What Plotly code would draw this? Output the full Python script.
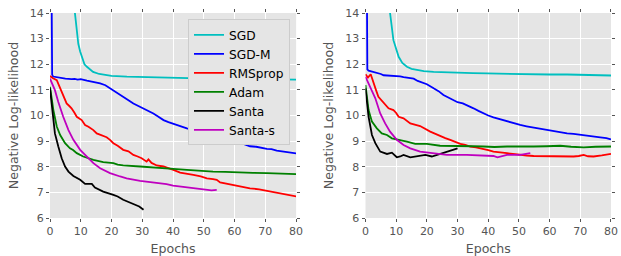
import plotly.graph_objects as go

# ---------------- data (left panel) ----------------
sgd_l_x = [1, 2, 3, 4, 5, 6, 7.0, 7.6, 8.1, 8.6, 9.2, 9.8, 10.5, 11.2, 12, 13, 14, 16, 18, 20, 25, 30, 35, 40, 45, 50, 55, 60, 65, 70, 75, 80]
sgd_l_y = [60, 40, 30, 24, 20, 18, 16.5, 15.2, 14.0, 13.3, 12.8, 12.5, 12.2, 12.0, 11.9, 11.8, 11.7, 11.62, 11.58, 11.55, 11.52, 11.5, 11.48, 11.47, 11.46, 11.45, 11.44, 11.43, 11.42, 11.42, 11.41, 11.4]

sgdm_l_x = [0.45, 0.7, 1, 2, 3, 5, 7, 8, 9, 10, 12, 14, 16.3, 18, 20.6, 22, 23.8, 25.5, 27.1, 29, 30.4, 32, 33.6, 35, 36.9, 38.5, 40.1, 42, 44.5, 47, 50, 52, 54.2, 57, 59.6, 62, 65, 67, 70.5, 72, 73.7, 76, 78, 80]
sgdm_l_y = [16.0, 11.6, 11.52, 11.5, 11.47, 11.44, 11.42, 11.43, 11.4, 11.42, 11.36, 11.32, 11.25, 11.18, 10.99, 10.88, 10.73, 10.6, 10.47, 10.36, 10.28, 10.2, 10.08, 9.97, 9.82, 9.74, 9.67, 9.6, 9.5, 9.42, 9.3, 9.2, 9.11, 9.05, 8.98, 8.93, 8.8, 8.78, 8.7, 8.69, 8.63, 8.6, 8.57, 8.52]

rms_l_x = [0, 1, 2.2, 3.2, 4.3, 5.4, 6.2, 7, 8, 8.7, 10.3, 11.4, 12.5, 14.1, 15.2, 16.5, 18.4, 19.5, 20.6, 22, 23.8, 25.5, 27.1, 28.5, 29.8, 31.4, 32, 33, 34.7, 36.9, 38.5, 40.1, 42.3, 44, 46.6, 49, 51, 53, 54.2, 55.3, 57, 59.6, 62, 65, 68, 70.5, 72, 74.8, 77, 80]
rms_l_y = [11.54, 11.45, 11.38, 11.1, 10.73, 10.47, 10.38, 10.28, 10.1, 9.95, 9.82, 9.63, 9.56, 9.43, 9.3, 9.25, 9.15, 9.05, 8.92, 8.82, 8.66, 8.6, 8.46, 8.4, 8.33, 8.2, 8.29, 8.15, 8.05, 8.01, 7.95, 7.88, 7.77, 7.74, 7.68, 7.62, 7.55, 7.52, 7.49, 7.39, 7.35, 7.29, 7.24, 7.16, 7.12, 7.06, 7.05, 6.97, 6.92, 6.84]

adam_l_x = [0, 0.5, 1.1, 2.2, 3.3, 4.9, 6.5, 7.5, 8.7, 10.8, 12.5, 14.1, 17.3, 20.6, 22, 23.8, 29.3, 35.8, 40, 44.5, 48, 53, 57, 61.8, 66, 70.5, 75, 80]
adam_l_y = [11.12, 10.7, 10.21, 9.57, 9.24, 8.92, 8.72, 8.65, 8.53, 8.4, 8.33, 8.27, 8.18, 8.14, 8.08, 8.05, 8.01, 7.94, 7.92, 7.88, 7.84, 7.81, 7.8, 7.77, 7.76, 7.75, 7.73, 7.71]

santa_l_x = [0, 0.9, 1.6, 2.7, 3.8, 4.9, 6, 7.6, 9.8, 11.4, 12.5, 13.6, 14.6, 17.3, 20.6, 22, 23.8, 25.5, 27.1, 29, 30.4]
santa_l_y = [11.06, 9.95, 9.3, 8.79, 8.33, 8.01, 7.81, 7.64, 7.49, 7.33, 7.32, 7.33, 7.19, 7.03, 6.9, 6.84, 6.71, 6.62, 6.56, 6.45, 6.32]

santas_l_x = [0, 1.6, 2.7, 4.3, 6, 7.6, 9.8, 12, 14.1, 16.3, 19.5, 22.8, 24.9, 29.3, 33.6, 37.9, 40, 42.3, 46.6, 51, 52.5, 54.2]
santas_l_y = [11.44, 10.99, 10.53, 9.95, 9.43, 9.05, 8.66, 8.4, 8.14, 7.94, 7.75, 7.62, 7.55, 7.45, 7.39, 7.32, 7.26, 7.23, 7.16, 7.1, 7.08, 7.1]

# ---------------- data (right panel) ----------------
sgd_r_x = [1, 2, 3, 4, 5, 6, 7, 8, 9.1, 10, 10.8, 12, 13.5, 15, 16.7, 19, 22.2, 26, 30.9, 35, 39.6, 47, 54.8, 60, 65.7, 72, 80]
sgd_r_y = [60, 40, 30, 24, 20, 17, 15.3, 14.0, 12.94, 12.55, 12.29, 12.05, 11.9, 11.82, 11.77, 11.73, 11.7, 11.68, 11.67, 11.65, 11.64, 11.62, 11.61, 11.6, 11.6, 11.58, 11.56]

sgdm_r_x = [0.4, 0.6, 1, 2, 3.7, 5, 5.9, 7.5, 9.1, 10, 11.3, 12.4, 13.5, 15.7, 17, 18.9, 20, 22.2, 23.8, 25.4, 27, 28.7, 30, 31.7, 33.5, 35.2, 36.8, 38.5, 40, 41.7, 44, 46.1, 48, 50.4, 52.5, 54.8, 57, 59.1, 61.3, 63.5, 65.7, 67.8, 70, 72.2, 74.4, 76.5, 78.5, 80]
sgdm_r_y = [16.0, 11.8, 11.75, 11.72, 11.67, 11.62, 11.57, 11.56, 11.54, 11.55, 11.53, 11.5, 11.48, 11.44, 11.35, 11.28, 11.22, 11.06, 10.95, 10.8, 10.7, 10.58, 10.52, 10.47, 10.38, 10.28, 10.18, 10.08, 10.0, 9.93, 9.85, 9.76, 9.7, 9.63, 9.58, 9.53, 9.48, 9.43, 9.37, 9.34, 9.3, 9.28, 9.24, 9.2, 9.18, 9.15, 9.12, 9.07]

rms_r_x = [0, 0.8, 1.7, 2.6, 3.4, 4.2, 5, 5.9, 7.5, 9.1, 10, 10.8, 12.4, 14.6, 16, 17.8, 21.1, 22.5, 24.3, 26, 27.6, 29, 30.9, 32.5, 34.1, 36, 38.5, 40, 41.7, 44, 46.1, 48, 50.4, 52.5, 54.8, 58, 61.3, 64, 67.8, 69.5, 71.1, 72.5, 74.3, 77, 80]
rms_r_y = [11.61, 11.48, 11.61, 11.25, 11.0, 10.73, 10.62, 10.54, 10.28, 10.21, 10.1, 9.95, 9.89, 9.69, 9.64, 9.59, 9.37, 9.3, 9.18, 9.12, 9.05, 8.98, 8.89, 8.85, 8.79, 8.76, 8.7, 8.65, 8.59, 8.57, 8.53, 8.5, 8.46, 8.44, 8.42, 8.41, 8.4, 8.39, 8.4, 8.42, 8.46, 8.41, 8.4, 8.44, 8.5]

adam_r_x = [0, 1, 2.1, 3.7, 5.3, 7, 8.6, 10, 11.3, 13.5, 16.2, 20, 24.3, 30.9, 35, 38.5, 42, 46.1, 50, 54.8, 59, 63.5, 67, 71.1, 75, 80]
adam_r_y = [11.19, 10.21, 9.76, 9.5, 9.3, 9.24, 9.11, 9.08, 9.05, 8.98, 8.89, 8.89, 8.82, 8.82, 8.8, 8.79, 8.77, 8.79, 8.78, 8.79, 8.8, 8.82, 8.78, 8.76, 8.78, 8.79]

santa_r_x = [0, 1, 2.1, 3.2, 4.8, 7, 8.6, 10.2, 11.3, 12.4, 14.6, 16.7, 19.5, 21.6, 23, 24.3, 26.5, 28.2, 30]
santa_r_y = [11.06, 9.95, 9.24, 8.92, 8.59, 8.5, 8.55, 8.37, 8.4, 8.46, 8.37, 8.42, 8.46, 8.4, 8.45, 8.5, 8.59, 8.66, 8.72]

santas_r_x = [0, 1.5, 3.2, 4.8, 6.4, 8, 10.2, 12.4, 14.6, 17.8, 22.2, 26.5, 33, 39.6, 41.7, 43, 46.1, 50.4, 53.7]
santas_r_y = [11.51, 11.12, 10.67, 10.08, 9.69, 9.37, 9.05, 8.85, 8.72, 8.59, 8.53, 8.46, 8.46, 8.44, 8.42, 8.37, 8.46, 8.46, 8.53]

names = ["SGD", "SGD-M", "RMSprop", "Adam", "Santa", "Santa-s"]
colors = ["#00BFBF", "#0000FF", "#FF0000", "#008000", "#000000", "#BF00BF"]
x_ticks = [0, 10, 20, 30, 40, 50, 60, 70, 80]
y_ticks = [6, 7, 8, 9, 10, 11, 12, 13, 14]

left = [(sgd_l_x, sgd_l_y), (sgdm_l_x, sgdm_l_y), (rms_l_x, rms_l_y),
        (adam_l_x, adam_l_y), (santa_l_x, santa_l_y), (santas_l_x, santas_l_y)]
right = [(sgd_r_x, sgd_r_y), (sgdm_r_x, sgdm_r_y), (rms_r_x, rms_r_y),
         (adam_r_x, adam_r_y), (santa_r_x, santa_r_y), (santas_r_x, santas_r_y)]

fig = go.Figure()
for (x, y), n, c in zip(left, names, colors):
    fig.add_trace(go.Scatter(x=x, y=y, name=n, mode="lines",
                             line=dict(color=c, width=1.8),
                             xaxis="x", yaxis="y", showlegend=True))
for (x, y), n, c in zip(right, names, colors):
    fig.add_trace(go.Scatter(x=x, y=y, name=n, mode="lines",
                             line=dict(color=c, width=1.8),
                             xaxis="x2", yaxis="y2", showlegend=False))

FONT = "DejaVu Sans"
GRAY = "#555555"
axis_common = dict(showgrid=True, gridcolor="white", gridwidth=1, zeroline=False,
                   ticks="outside", ticklen=3, tickcolor=GRAY, tickwidth=1,
                   mirror="ticks", showline=False, automargin=False,
                   tickfont=dict(family=FONT, size=11, color=GRAY))

xa = dict(axis_common, range=[0, 80], tickvals=x_ticks,
          title=dict(text="Epochs", font=dict(family=FONT, size=12.6, color=GRAY), standoff=8))
ya = dict(axis_common, range=[6, 14], tickvals=y_ticks,
          title=dict(text="Negative Log-likelihood", font=dict(family=FONT, size=12.6, color=GRAY), standoff=8))

fig.update_layout(
    width=621, height=256,
    margin=dict(l=50, r=10, t=13, b=38, autoexpand=False),
    paper_bgcolor="white", plot_bgcolor="#E5E5E5",
    xaxis=dict(xa, domain=[0, 0.4387], anchor="y"),
    yaxis=dict(ya, domain=[0, 1], anchor="x"),
    xaxis2=dict(xa, domain=[0.5624, 1], anchor="y2"),
    yaxis2=dict(ya, domain=[0, 1], anchor="x2"),
    legend=dict(x=0.246, y=0.969, xanchor="left", yanchor="top",
                bgcolor="#E5E5E5", bordercolor="#CCCCCC", borderwidth=1,
                font=dict(family=FONT, size=12.2, color="#000000"),
                tracegroupgap=0),
    showlegend=True,
)

fig.write_html("out.html", config={"displayModeBar": False},
               post_script="document.body.style.margin='0';document.body.style.overflow='hidden';")
